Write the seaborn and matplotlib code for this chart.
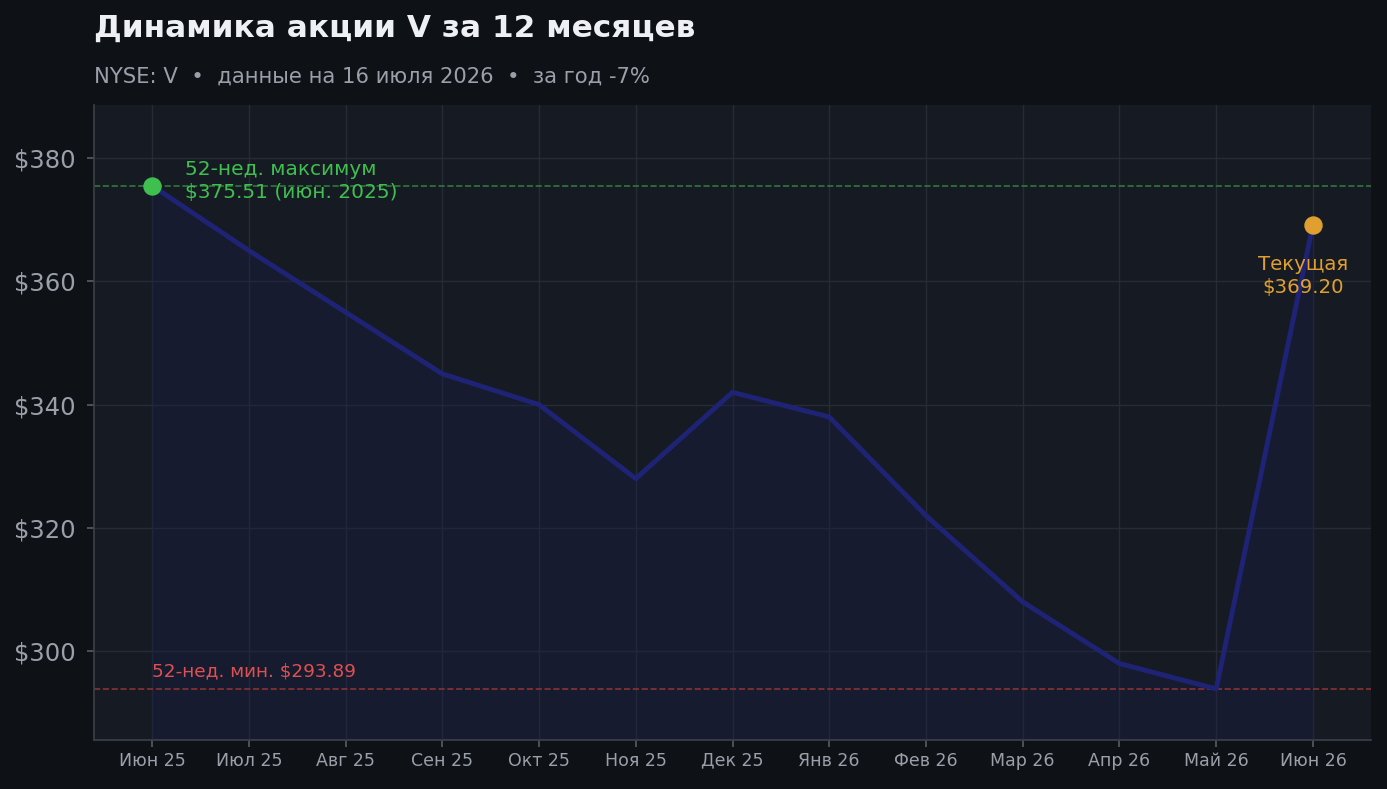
import matplotlib
matplotlib.use("Agg")
import matplotlib.pyplot as plt
import seaborn as sns
import pandas as pd

months = ["Июн 25","Июл 25","Авг 25","Сен 25","Окт 25","Ноя 25","Дек 25","Янв 26","Фев 26","Мар 26","Апр 26","Май 26","Июн 26"]
prices = [375.51, 365, 355, 345, 340, 328, 342, 338, 322, 308, 298, 293.89, 369.20]
high = 375.51
low = 293.89

sns.set_theme(style="dark")
plt.rcParams['font.family'] = ['DejaVu Sans']
df = pd.DataFrame({"x": range(len(months)), "p": prices})

fig = plt.figure(figsize=(13.87, 7.89), dpi=100, facecolor="#0e1217")
ax = fig.add_axes([94/1387, 1-740/789, (1371-94)/1387, (740-105)/789])
ax.set_facecolor("#161a22")
ax.fill_between(df["x"], df["p"], 285.6, color="#1a1f4a", alpha=0.35, zorder=1)
sns.lineplot(data=df, x="x", y="p", ax=ax, color="#1f2375", lw=3.5, zorder=3)
ax.axhline(high, color="#2f7a3c", ls="--", lw=1.2, zorder=2)
ax.axhline(low, color="#8a3232", ls="--", lw=1.2, zorder=2)
ax.scatter([0], [prices[0]], s=150, color="#3fbf4f", zorder=5)
ax.scatter([12], [prices[-1]], s=150, color="#e0a030", zorder=5)
ax.text(0.34, 376.3, "52-нед. максимум\n$375.51 (июн. 2025)", color="#3fbf4f", fontsize=14.5, va="center", linespacing=1.25)
ax.text(0, 295.3, "52-нед. мин. $293.89", color="#e05050", fontsize=13.3, va="bottom")
ax.text(11.9, 360.9, "Текущая\n$369.20", color="#e0a030", fontsize=14.2, ha="center", va="center", linespacing=1.25)

ax.set_xlim(-0.6, 12.6)
ax.set_ylim(285.6, 388.6)
ax.set_xticks(range(len(months)))
ax.set_xticklabels(months, color="#9aa0aa", fontsize=12.5)
ax.set_yticks([300, 320, 340, 360, 380])
ax.set_yticklabels([f"${v}" for v in [300, 320, 340, 360, 380]], color="#9aa0aa", fontsize=17.5)
ax.tick_params(axis="y", pad=8)
ax.tick_params(axis="both", length=5, color="#555a63", bottom=True, left=True)
ax.grid(True, color="#262b35", lw=1)
ax.set_xlabel(""); ax.set_ylabel("")
for s in ax.spines.values():
    s.set_visible(False)
ax.spines["left"].set_visible(True); ax.spines["bottom"].set_visible(True)
ax.spines["left"].set_color("#3a3f48"); ax.spines["bottom"].set_color("#3a3f48")

fig.text(94/1387, 1-28/789, "Динамика акции V за 12 месяцев", color="#eef0f3", fontsize=22.4, fontweight="bold", va="center")
fig.text(94/1387, 1-77/789, "NYSE: V  •  данные на 16 июля 2026  •  за год -7%", color="#9aa0aa", fontsize=15.2, va="center")
fig.savefig("out.png", dpi=100, facecolor=fig.get_facecolor())
